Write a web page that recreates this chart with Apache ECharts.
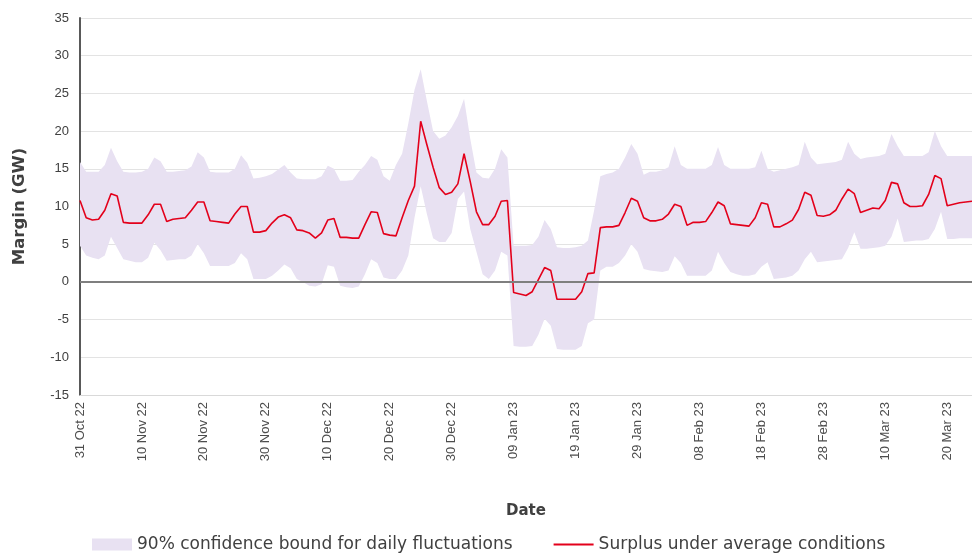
<!DOCTYPE html>
<html>
<head>
<meta charset="utf-8">
<script src="https://cdn.jsdelivr.net/npm/echarts@6/dist/echarts.min.js"></script>
<style>
  html, body { margin: 0; padding: 0; background: #fff; }
  #margin { width: 972px; height: 555px; }
</style>
</head>
<body>
<div id="margin"></div>
<script>
// daily categories, 31 Oct 22 .. 23 Mar 23
const monthNames = ['Jan','Feb','Mar','Apr','May','Jun','Jul','Aug','Sep','Oct','Nov','Dec'];
const startDate = Date.UTC(2022, 9, 31);
const dayCount = 145;
const dates = [];
for (let i = 0; i < dayCount; i++) {
    const d = new Date(startDate + i * 86400000);
    dates.push(String(d.getUTCDate()).padStart(2, '0') + ' ' + monthNames[d.getUTCMonth()] + ' ' + String(d.getUTCFullYear() % 100));
}

// surplus under average conditions (GW)
const surplus = [
    10.8, 8.5, 8.2, 8.3, 9.5, 11.7, 11.4,
    7.9, 7.8, 7.8, 7.8, 8.9, 10.3, 10.3,
    8.0, 8.3, 8.4, 8.5, 9.5, 10.6, 10.6,
    8.1, 8.0, 7.9, 7.8, 9.0, 10.0, 10.0,
    6.6, 6.6, 6.8, 7.8, 8.6, 8.9, 8.5,
    6.9, 6.8, 6.5, 5.8, 6.5, 8.2, 8.4,
    5.9, 5.9, 5.8, 5.8, 7.6, 9.3, 9.2,
    6.4, 6.2, 6.1, 8.5, 10.8, 12.7, 21.3,
    18.2, 15.2, 12.5, 11.6, 11.9, 13.0, 17.0,
    13.3, 9.3, 7.6, 7.6, 8.7, 10.7, 10.8,
    -1.4, -1.6, -1.8, -1.3, 0.3, 1.9, 1.5,
    -2.3, -2.3, -2.3, -2.3, -1.3, 1.1, 1.2,
    7.2, 7.3, 7.3, 7.5, 9.2, 11.1, 10.7,
    8.5, 8.1, 8.1, 8.3, 9.0, 10.3, 10.0,
    7.5, 7.9, 7.9, 8.0, 9.2, 10.6, 10.1,
    7.7, 7.6, 7.5, 7.4, 8.5, 10.5, 10.3,
    7.3, 7.3, 7.7, 8.2, 9.6, 11.9, 11.5,
    8.8, 8.7, 8.9, 9.5, 11.0, 12.3, 11.7,
    9.2, 9.5, 9.8, 9.7, 10.8, 13.2, 13.0,
    10.5, 10.0, 10.0, 10.1, 11.6, 14.1, 13.7,
    10.1, 10.3, 10.5, 10.6, 10.7
];

// 90% confidence bound, lower edge (GW)
const lowerBound = [
    4.8, 3.5, 3.2, 3.0, 3.5, 6.0, 4.5,
    3.0, 2.8, 2.6, 2.6, 3.2, 5.2, 4.2,
    2.8, 2.9, 3.0, 3.0, 3.5, 5.0, 3.8,
    2.1, 2.1, 2.1, 2.1, 2.5, 3.8, 3.0,
    0.4, 0.4, 0.4, 0.8, 1.5, 2.3, 1.8,
    0.4, 0.0, -0.5, -0.6, -0.3, 2.2, 2.0,
    -0.5, -0.7, -0.8, -0.6, 1.0, 3.0, 2.5,
    0.6, 0.4, 0.4, 1.5, 3.5, 8.5, 12.7,
    9.0, 5.8, 5.3, 5.3, 6.5, 11.0, 12.0,
    7.0, 4.0, 1.0, 0.4, 1.5, 4.0, 3.5,
    -8.5, -8.6, -8.6, -8.5, -7.0, -4.9, -5.8,
    -8.9, -9.0, -9.0, -9.0, -8.5, -5.5, -5.0,
    1.5, 2.0, 2.0, 2.5, 3.5, 5.0, 4.0,
    1.7, 1.5, 1.4, 1.3, 1.5, 3.4, 2.5,
    0.8, 0.8, 0.8, 0.8, 1.5, 4.0, 2.5,
    1.3, 1.0, 0.8, 0.8, 1.0, 2.0, 2.6,
    0.4, 0.5, 0.6, 0.8, 1.5, 3.0, 4.0,
    2.6, 2.7, 2.8, 2.9, 3.0, 4.5, 6.6,
    4.4, 4.4, 4.5, 4.6, 4.8, 6.0, 8.4,
    5.3, 5.4, 5.5, 5.5, 5.7, 7.0, 9.3,
    5.7, 5.7, 5.8, 5.8, 5.8
];

// 90% confidence bound, upper edge (GW)
const upperBound = [
    15.9, 14.6, 14.6, 14.6, 15.5, 17.8, 16.0,
    14.6, 14.5, 14.5, 14.6, 15.0, 16.5, 16.0,
    14.6, 14.6, 14.7, 14.8, 15.3, 17.2, 16.5,
    14.6, 14.5, 14.5, 14.5, 15.0, 16.8, 15.8,
    13.7, 13.8, 14.0, 14.3, 14.9, 15.5, 14.5,
    13.7, 13.6, 13.6, 13.6, 14.0, 15.4, 15.0,
    13.4, 13.4, 13.5, 14.6, 15.5, 16.7, 16.2,
    14.0, 13.4, 15.5, 17.0, 21.0, 25.5, 28.2,
    24.0, 20.0, 19.0, 19.4, 20.5, 22.0, 24.3,
    19.0, 14.5, 13.8, 13.7, 15.0, 17.6, 16.5,
    4.8, 4.8, 4.8, 4.9, 6.0, 8.2, 7.0,
    4.6, 4.5, 4.5, 4.6, 4.8, 5.5, 9.5,
    14.0, 14.3, 14.5, 15.0, 16.5, 18.3, 17.0,
    14.2, 14.6, 14.6, 14.8, 15.2, 18.0, 15.5,
    15.0, 15.0, 15.0, 15.0, 15.5, 17.9, 15.5,
    15.0, 15.0, 15.0, 15.0, 15.2, 17.4, 15.0,
    14.6, 14.8, 15.0, 15.2, 15.5, 18.6, 16.5,
    15.6, 15.7, 15.8, 15.9, 16.2, 18.6, 17.0,
    16.3, 16.5, 16.6, 16.7, 17.0, 19.6, 18.0,
    16.7, 16.7, 16.7, 16.7, 17.2, 20.0, 18.0,
    16.7, 16.7, 16.7, 16.7, 16.7
];

const yTicks = { min: -15, max: 35, interval: 5 };

// the band is drawn as a stack: transparent lower edge + visible width
const bandWidth = upperBound.map((u, i) => +(u - lowerBound[i]).toFixed(2));

let myChart = echarts.init(document.getElementById('margin'));

let option = {
    animation: false,
    textStyle: {
        fontFamily: 'Liberation Sans, Arial, sans-serif'
    },
    grid: {
        left: 80,
        right: 0,
        top: 18,
        bottom: 160
    },
    legend: {
        left: 87,
        top: 531,
        itemWidth: 40,
        itemHeight: 12,
        itemGap: 41,
        textStyle: {
            fontFamily: 'DejaVu Sans',
            fontSize: 17,
            color: '#404040'
        },
        data: [
            { name: '90% confidence bound for daily fluctuations', icon: 'rect' },
            { name: 'Surplus under average conditions', icon: 'path://M0,0L40,0L40,2L0,2Z' }
        ]
    },
    xAxis: {
        type: 'category',
        data: dates,
        boundaryGap: false,
        name: 'Date',
        nameLocation: 'middle',
        nameGap: 109,
        nameTextStyle: {
            fontFamily: 'DejaVu Sans',
            fontWeight: 'bold',
            fontSize: 15,
            color: '#404040'
        },
        axisLine: {
            onZero: false,
            lineStyle: { color: '#d9d9d9', width: 1 }
        },
        axisTick: { show: false },
        axisLabel: {
            interval: 9,
            rotate: 90,
            margin: 7,
            fontSize: 13,
            color: '#4d4d4d'
        },
        splitLine: { show: false }
    },
    yAxis: {
        type: 'value',
        min: yTicks.min,
        max: yTicks.max,
        interval: yTicks.interval,
        name: 'Margin (GW)',
        nameLocation: 'middle',
        nameRotate: 90,
        nameGap: 52,
        nameTextStyle: {
            fontFamily: 'DejaVu Sans',
            fontWeight: 'bold',
            fontSize: 16.5,
            color: '#404040'
        },
        axisLine: {
            show: true,
            lineStyle: { color: '#595959', width: 2 }
        },
        axisTick: { show: false },
        axisLabel: {
            fontSize: 13,
            margin: 11,
            color: '#404040'
        },
        splitLine: {
            lineStyle: { color: '#e3e3e3', width: 1 }
        }
    },
    series: [{
        name: 'lower',
        type: 'line',
        stack: 'band',
        stackStrategy: 'all',
        symbol: 'none',
        silent: true,
        lineStyle: { opacity: 0 },
        data: lowerBound
    }, {
        name: '90% confidence bound for daily fluctuations',
        type: 'line',
        stack: 'band',
        stackStrategy: 'all',
        symbol: 'none',
        silent: true,
        lineStyle: { opacity: 0 },
        itemStyle: { color: '#e8e1f2' },
        areaStyle: { color: '#e8e1f2', opacity: 1 },
        data: bandWidth
    }, {
        name: 'Surplus under average conditions',
        type: 'line',
        symbol: 'none',
        itemStyle: { color: '#e3001b' },
        lineStyle: { color: '#e3001b', width: 1.6 },
        markLine: {
            silent: true,
            symbol: 'none',
            label: { show: false },
            lineStyle: { color: '#7f7f7f', width: 2, type: 'solid' },
            data: [{ yAxis: 0 }]
        },
        data: surplus,
        z: 3
    }]
};

myChart.setOption(option);
</script>
</body>
</html>
